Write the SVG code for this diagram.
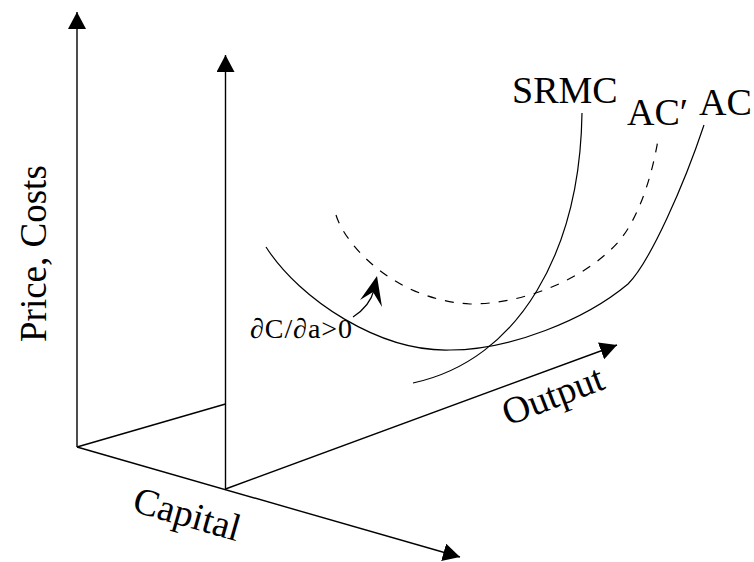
<svg xmlns="http://www.w3.org/2000/svg" width="754" height="562" viewBox="0 0 754 562">
<defs>
<marker id="arr" markerUnits="userSpaceOnUse" markerWidth="18" markerHeight="18" refX="17" refY="9" orient="auto">
<path d="M0,0 L17,9 L0,18 Z" fill="#000"/>
</marker>
<style>
.ax{stroke:#000;stroke-width:1.4;fill:none}
.cv{stroke:#000;stroke-width:1.2;fill:none}
.dash{stroke-dasharray:9 9}
.lbl{font-family:"Liberation Serif","Times New Roman",serif;font-size:38px;fill:#000}
.sm{font-family:"Liberation Serif","Times New Roman",serif;font-size:28px;fill:#000}
</style>
</defs>
<rect width="754" height="562" fill="#fff"/>
<g id="axes">
<line class="ax" x1="77" y1="447" x2="77" y2="12" marker-end="url(#arr)"/>
<line class="ax" x1="225.5" y1="489" x2="225.5" y2="55" marker-end="url(#arr)"/>
<line class="ax" x1="77" y1="447" x2="460" y2="557" marker-end="url(#arr)"/>
<line class="ax" x1="225.5" y1="489" x2="617" y2="345" marker-end="url(#arr)"/>
<line class="ax" x1="77" y1="447" x2="225.5" y2="404"/>
</g>
<g id="curves">
<path id="srmc-curve" class="cv" d="M582,113 C580,250 520,360 413,383"/>
<path id="ac-curve" class="cv" d="M266,247 C300,300 380,352 450,350 C510,350 585,320 628,284 C650,262 684,185 704,125"/>
<path id="acp-curve" class="cv dash" d="M336,215 C345,245 395,300 470,304 C530,304 590,275 620,240 C640,215 652,175 658,140"/>
<path id="shift-arrow" class="cv" d="M353,317 Q370,306 374,290"/>
<polygon points="377,276 382,307 373,292 360,300" fill="#000"/>
</g>
<g id="labels">
<text class="lbl" style="font-size:37px" transform="translate(46,342) rotate(-90)">Price, Costs</text>
<text class="lbl" x="512" y="103">SRMC</text>
<text class="lbl" x="627" y="125">AC′</text>
<text class="lbl" x="699" y="115">AC</text>
<text class="sm" x="250" y="338" textLength="102" lengthAdjust="spacing">∂C/∂a&gt;0</text>
<text class="lbl" transform="translate(508,426) rotate(-21)">Output</text>
<text class="lbl" transform="translate(131,511) rotate(16)">Capital</text>
</g>
</svg>
